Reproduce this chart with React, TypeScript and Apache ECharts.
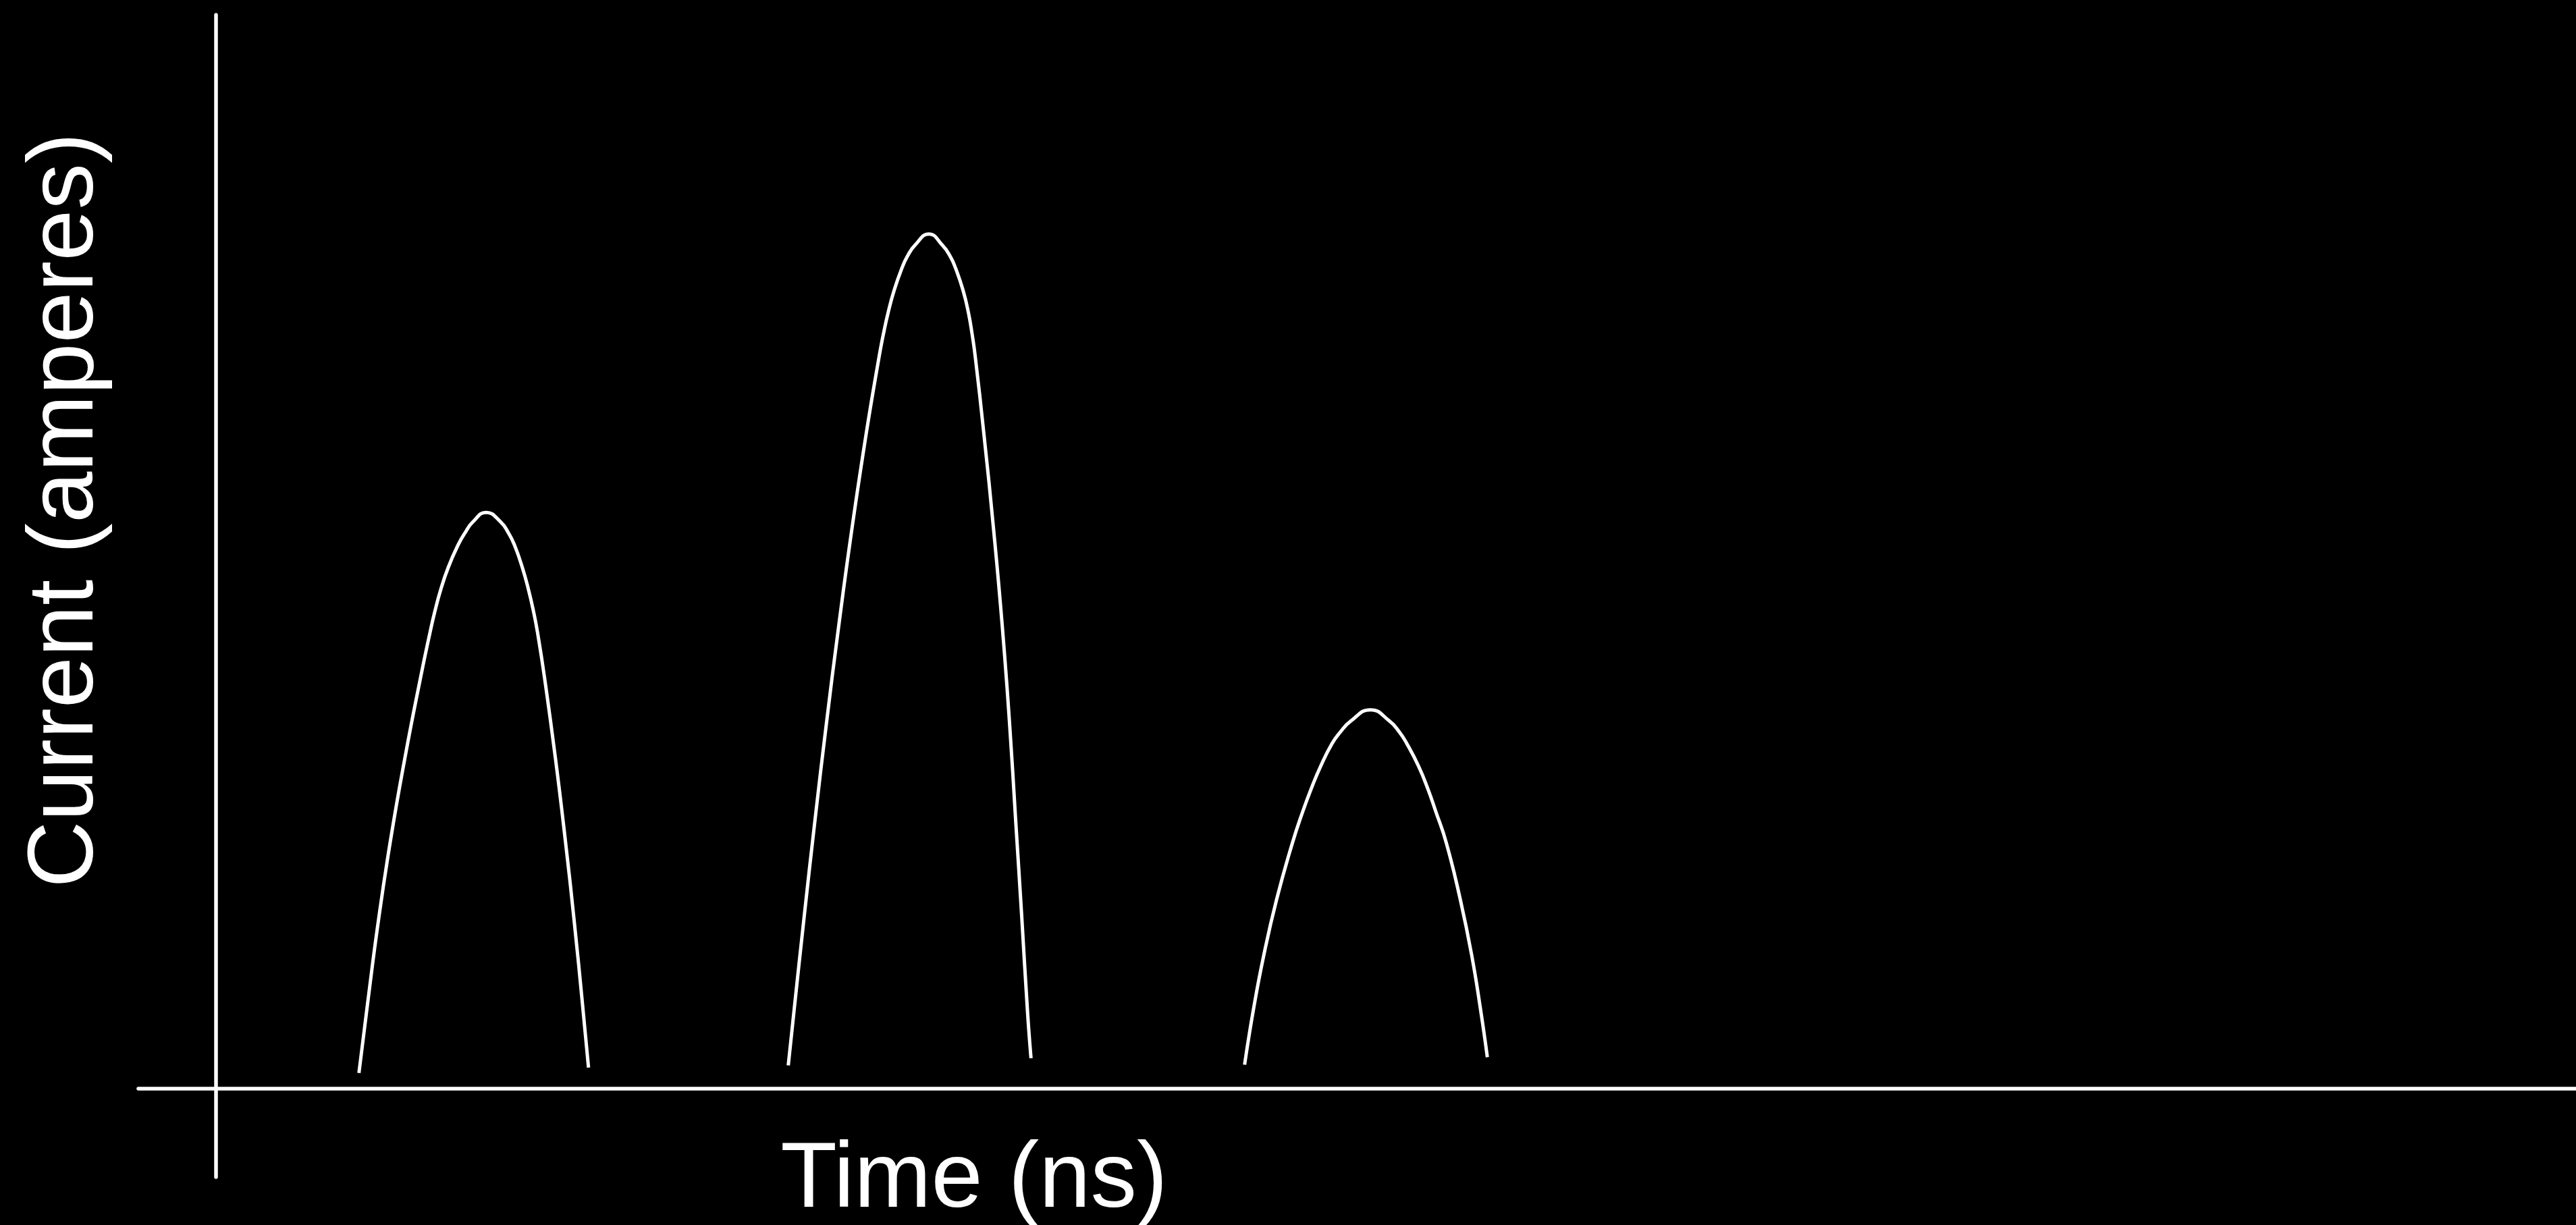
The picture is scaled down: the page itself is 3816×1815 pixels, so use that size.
import React, { useEffect, useRef } from "react";
import * as echarts from "echarts";

// Time in ns, current in amperes (no tick labels are shown in the reference)
const pulse1Time = [2.117, 2.244, 2.402, 2.584, 2.796, 3.032, 3.171, 3.24, 3.33, 3.443, 3.59, 3.685, 3.805, 4.0, 4.217, 4.334, 4.418, 4.535, 4.628, 4.705, 4.762, 4.865, 5.029, 5.175, 5.308, 5.429, 5.518];
const pulse1Current = [0.233, 1.251, 2.463, 3.675, 4.888, 6.1, 6.763, 7.063, 7.397, 7.73, 8.063, 8.23, 8.397, 8.537, 8.397, 8.23, 8.063, 7.73, 7.397, 7.063, 6.763, 6.1, 4.888, 3.675, 2.463, 1.251, 0.312];

const pulse2Time = [8.477, 8.56, 8.714, 8.874, 9.043, 9.223, 9.417, 9.631, 9.826, 9.883, 9.956, 10.046, 10.163, 10.24, 10.354, 10.56, 10.76, 10.877, 10.953, 11.066, 11.146, 11.203, 11.245, 11.375, 11.52, 11.648, 11.755, 11.845, 11.935, 12.022, 12.073];
const pulse2Current = [0.344, 1.13, 2.56, 3.987, 5.416, 6.844, 8.273, 9.701, 10.863, 11.163, 11.497, 11.83, 12.163, 12.33, 12.497, 12.663, 12.497, 12.33, 12.163, 11.83, 11.497, 11.163, 10.863, 9.701, 8.273, 6.844, 5.416, 3.987, 2.56, 1.13, 0.451];

const pulse3Time = [15.237, 15.365, 15.523, 15.714, 15.946, 16.101, 16.225, 16.365, 16.532, 16.652, 16.811, 17.1, 17.383, 17.533, 17.64, 17.813, 17.95, 18.067, 18.225, 18.43, 18.6, 18.735, 18.833];
const pulse3Current = [0.355, 1.155, 1.984, 2.813, 3.642, 4.113, 4.447, 4.78, 5.113, 5.28, 5.447, 5.613, 5.447, 5.28, 5.113, 4.78, 4.447, 4.113, 3.642, 2.813, 1.984, 1.155, 0.467];

const xRange = [-1.15, 34.96];
const yRange = [-1.31, 15.91];

const xTitle = "Time (ns)";
const yTitle = "Current (amperes)";

const zip = (xs: number[], ys: number[]) => xs.map((x, i) => [x, ys[i]]);

export default function App() {
  const ref = useRef<HTMLDivElement>(null);

  useEffect(() => {
    document.body.style.margin = "0";
    document.body.style.background = "#000";
    const chart = echarts.init(ref.current!, null, { renderer: "svg" });
    const font = "'Liberation Sans', Arial, Helvetica, sans-serif";
    const lineStyle = { color: "#ffffff", width: 5 };
    const mkSeries = (name: string, xs: number[], ys: number[]) => ({
      name,
      type: "line",
      data: zip(xs, ys),
      smooth: 0.5,
      showSymbol: false,
      symbol: "none",
      lineStyle,
      silent: true,
    });
    chart.setOption({
      animation: false,
      backgroundColor: "#000000",
      grid: { left: 205, right: 0, top: 22, bottom: 71, containLabel: false },
      xAxis: {
        type: "value",
        min: xRange[0],
        max: xRange[1],
        axisLine: { show: true, onZero: true, lineStyle: { color: "#ffffff", width: 5.5 } },
        axisTick: { show: false },
        axisLabel: { show: false },
        splitLine: { show: false },
      },
      yAxis: {
        type: "value",
        min: yRange[0],
        max: yRange[1],
        axisLine: { show: true, onZero: true, lineStyle: { color: "#ffffff", width: 5.5 } },
        axisTick: { show: false },
        axisLabel: { show: false },
        splitLine: { show: false },
      },
      series: [
        mkSeries("Pulse 1", pulse1Time, pulse1Current),
        mkSeries("Pulse 2", pulse2Time, pulse2Current),
        mkSeries("Pulse 3", pulse3Time, pulse3Current),
      ],
      graphic: [
        {
          type: "text",
          x: 1443,
          y: 1740,
          style: {
            text: xTitle,
            fill: "#ffffff",
            font: `137px ${font}`,
            textAlign: "center",
            textVerticalAlign: "middle",
          },
        },
        {
          type: "text",
          x: 89,
          y: 756,
          rotation: Math.PI / 2,
          style: {
            text: yTitle,
            fill: "#ffffff",
            font: `137px ${font}`,
            textAlign: "center",
            textVerticalAlign: "middle",
          },
        },
      ],
    });
    return () => chart.dispose();
  }, []);

  return (
    <div
      ref={ref}
      style={{ position: "fixed", left: 0, top: 0, width: 3816, height: 1815, background: "#000" }}
    />
  );
}
